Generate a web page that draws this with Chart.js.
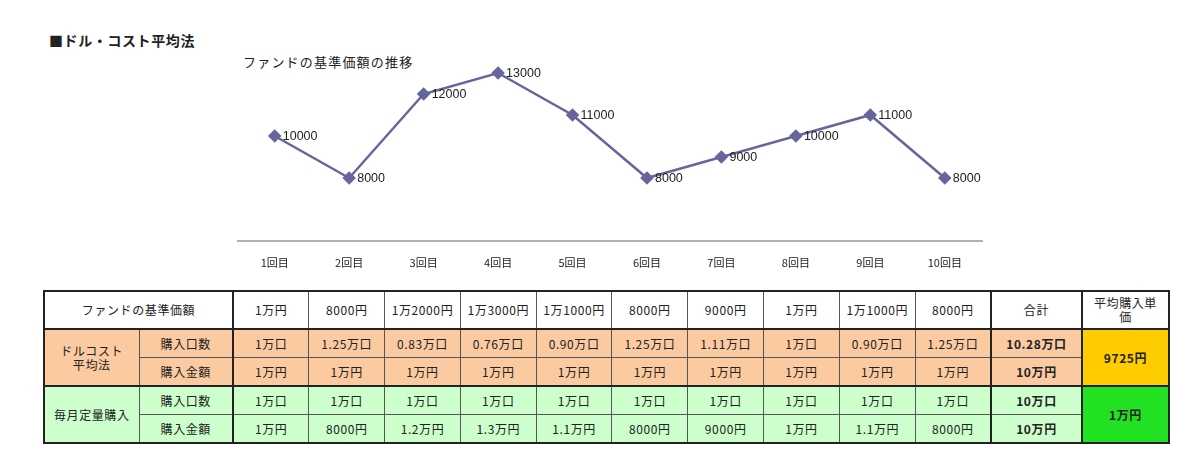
<!DOCTYPE html>
<html lang="ja">
<head>
<meta charset="utf-8">
<script src="https://cdn.jsdelivr.net/npm/chart.js@4/dist/chart.umd.min.js"></script>
<style>
  body { margin: 0; width: 1200px; height: 462px; background: #fff; position: relative; overflow: hidden;
         font-family: "Noto Sans CJK JP", "Liberation Sans", sans-serif; color: #222; }
  #title { position: absolute; left: 49px; top: 30px; font-size: 14px; font-weight: bold; letter-spacing: 0.6px; }
  #subtitle { position: absolute; left: 243px; top: 52px; font-size: 13px; letter-spacing: 1.2px; }
  #wrap { position: absolute; left: 230px; top: 40px; width: 800px; height: 240px; }
  table { position: absolute; left: 43px; top: 290px; width: 1125px; border-collapse: collapse;
          table-layout: fixed; font-size: 12px; letter-spacing: 0.6px; border: 2.5px solid #222; }
  td { border: 1px solid #555; text-align: center; padding: 0; line-height: 14px; white-space: nowrap; }
  tr.head td { background: #fff; height: 36px; }
  tr.o td { background: #fbcaa0; height: 27px; }
  tr.g td { background: #ccffcc; height: 27px; }
  .tl { border-left: 2.5px solid #222; }
  .tb { border-bottom: 2.5px solid #222; }
  .b { font-weight: bold; }
  td.gold { background: #ffcc00 !important; font-weight: bold; }
  td.lime { background: #22e022 !important; font-weight: bold; }
</style>
</head>
<body>
<div id="title">■ドル・コスト平均法</div>
<div id="subtitle">ファンドの基準価額の推移</div>
<div id="wrap"><canvas id="c"></canvas></div>
<table id="t"></table>
<script>
const rounds = ["1回目", "2回目", "3回目", "4回目", "5回目", "6回目", "7回目", "8回目", "9回目", "10回目"];
const fundPrices = [10000, 8000, 12000, 13000, 11000, 8000, 9000, 10000, 11000, 8000];

const priceText = ["1万円", "8000円", "1万2000円", "1万3000円", "1万1000円", "8000円", "9000円", "1万円", "1万1000円", "8000円"];
const dcaUnits = ["1万口", "1.25万口", "0.83万口", "0.76万口", "0.90万口", "1.25万口", "1.11万口", "1万口", "0.90万口", "1.25万口"];
const dcaAmounts = ["1万円", "1万円", "1万円", "1万円", "1万円", "1万円", "1万円", "1万円", "1万円", "1万円"];
const fixedUnits = ["1万口", "1万口", "1万口", "1万口", "1万口", "1万口", "1万口", "1万口", "1万口", "1万口"];
const fixedAmounts = ["1万円", "8000円", "1.2万円", "1.3万円", "1.1万円", "8000円", "9000円", "1万円", "1.1万円", "8000円"];
const totals = { dcaUnits: "10.28万口", dcaAmount: "10万円", fixedUnits: "10万口", fixedAmount: "10万円" };
const avgPrice = { dca: "9725円", fixed: "1万円" };

// table
let html = '<colgroup><col style="width:95px"><col style="width:94px">';
for (let i = 0; i < 10; i++) html += '<col style="width:75.8px">';
html += '<col style="width:91px"><col style="width:87px"></colgroup>';
html += '<tr class="head"><td colspan="2" class="tb">ファンドの基準価額</td>';
priceText.forEach((p, i) => html += `<td class="tb${i === 0 ? ' tl' : ''}">${p}</td>`);
html += '<td class="tb tl">合計</td><td class="tb tl">平均購入単<br>価</td></tr>';
function row(cls, first, label, vals, total, avg, avgCls, last) {
  let s = `<tr class="${cls}">`;
  if (first) s += `<td rowspan="2" class="tb">${first}</td>`;
  s += `<td class="${last ? 'tb' : ''}">${label}</td>`;
  vals.forEach((v, i) => s += `<td class="${i === 0 ? 'tl ' : ''}${last ? 'tb' : ''}">${v}</td>`);
  s += `<td class="tl b ${last ? 'tb' : ''}">${total}</td>`;
  if (avg) s += `<td rowspan="2" class="tl tb ${avgCls}">${avg}</td>`;
  return s + '</tr>';
}
html += row("o", "ドルコスト<br>平均法", "購入口数", dcaUnits, totals.dcaUnits, avgPrice.dca, "gold", false);
html += row("o", null, "購入金額", dcaAmounts, totals.dcaAmount, null, "", true);
html += row("g", "毎月定量購入", "購入口数", fixedUnits, totals.fixedUnits, avgPrice.fixed, "lime", false);
html += row("g", null, "購入金額", fixedAmounts, totals.fixedAmount, null, "", false);
document.getElementById("t").innerHTML = html;

// value labels next to points
const valueLabels = {
  id: "valueLabels",
  afterDatasetsDraw(chart) {
    const ctx = chart.ctx;
    const meta = chart.getDatasetMeta(0);
    ctx.save();
    ctx.font = '12.5px "Liberation Sans", Arial, sans-serif';
    ctx.fillStyle = "#222";
    ctx.textBaseline = "middle";
    meta.data.forEach((pt, i) => {
      ctx.fillText(String(fundPrices[i]), pt.x + 8, pt.y + 1);
    });
    ctx.restore();
  }
};

new Chart(document.getElementById("c"), {
  type: "line",
  data: {
    labels: rounds,
    datasets: [{
      data: fundPrices,
      borderColor: "#66669c",
      backgroundColor: "#66669c",
      borderWidth: 2.5,
      pointStyle: "rectRot",
      pointRadius: 5,
      tension: 0
    }]
  },
  options: {
    responsive: true,
    maintainAspectRatio: false,
    animation: false,
    layout: { padding: { left: 7, right: 48, top: 12, bottom: 0 } },
    plugins: { legend: { display: false }, tooltip: { enabled: false } },
    scales: {
      y: { display: false, min: 5000, max: 14000 },
      x: {
        offset: true,
        grid: { display: false, drawTicks: false },
        border: { color: "#b0b0b0", width: 2 },
        ticks: { color: "#222", padding: 15, font: { size: 11, family: '"Noto Sans CJK JP", sans-serif' } },
        afterFit(scale) { scale.height = 39; }
      }
    }
  },
  plugins: [valueLabels]
});
</script>
</body>
</html>
